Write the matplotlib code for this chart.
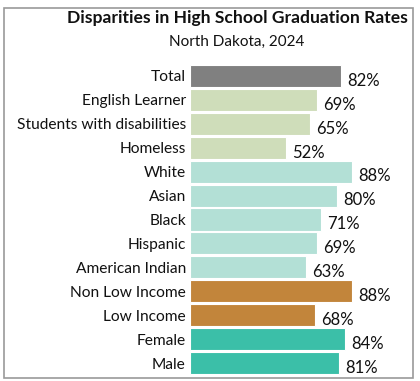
import matplotlib.pyplot as plt
from matplotlib.patches import Rectangle

plt.rcParams['font.family'] = ['Lato', 'DejaVu Sans']

groups = ["Total", "English Learner", "Students with disabilities", "Homeless",
          "White", "Asian", "Black", "Hispanic", "American Indian",
          "Non Low Income", "Low Income", "Female", "Male"]
rates = [82, 69, 65, 52, 88, 80, 71, 69, 63, 88, 68, 84, 81]
colors = ["#808080"] + ["#CFDDBA"] * 3 + ["#B3E0D6"] * 5 + ["#C2853B"] * 2 + ["#3BBFA8"] * 2

fig = plt.figure(figsize=(4.2, 3.81), dpi=100)
fig.patches.append(Rectangle((4 / 420, 3 / 381), 409 / 420, 370 / 381, transform=fig.transFigure,
                             fill=False, edgecolor="#9a9a9a", linewidth=1.2))

ax = fig.add_axes([190 / 420, 6 / 381, 184 / 420, 311 / 381])
y = list(range(len(groups)))
ax.barh(y, rates, height=0.92, color=colors, edgecolor="white", linewidth=0.8)
for yi, r in zip(y, rates):
    ax.text(r + 3.5, yi + 0.2, f"{r}%", va="center", ha="left", fontsize=12, color="#111111")

ax.set_ylim(len(groups) - 0.5, -0.5)
ax.set_xlim(0, 100)
ax.set_yticks(y)
ax.set_yticklabels(groups, fontsize=11.2, color="#111111")
ax.tick_params(axis="y", length=0, pad=3)
ax.set_xticks([])
for s in ax.spines.values():
    s.set_visible(False)

fig.text(237 / 420, 1 - 18 / 381, "Disparities in High School Graduation Rates", ha="center", va="center",
         fontsize=12.6, fontweight="bold", color="#111111")
fig.text(237 / 420, 1 - 42 / 381, "North Dakota, 2024", ha="center", va="center",
         fontsize=11, color="#111111")

fig.savefig("out.png", dpi=100)
